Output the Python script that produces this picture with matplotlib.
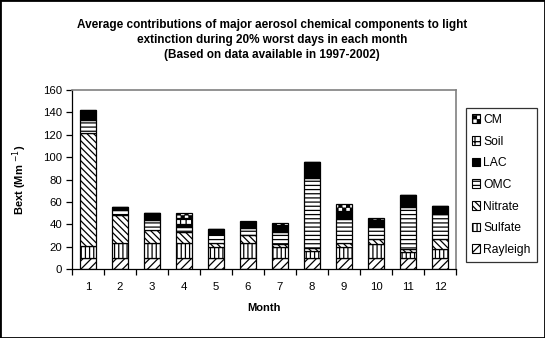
import numpy as np
import matplotlib
matplotlib.use('Agg')
import matplotlib.pyplot as plt
import matplotlib.hatch as mhatch
from matplotlib.path import Path
from matplotlib.patches import Patch, Rectangle

# ---------------- data ----------------
months = ['1', '2', '3', '4', '5', '6', '7', '8', '9', '10', '11', '12']
rayleigh = [10, 10, 10, 10, 10, 10, 10, 10, 10, 10, 10, 10]
sulfate = [11, 13, 13, 13, 10, 13, 10, 6, 10, 12, 5, 7.5]
nitrate = [101, 25, 11.5, 10, 3.5, 7.5, 2, 2.5, 3, 4.5, 2.5, 9]
omc = [11, 4.5, 9.5, 5, 8, 6.5, 11, 63, 21.5, 11, 38, 23]
lac = [8.5, 3, 6, 2.5, 4.5, 5, 6.5, 14.5, 6.5, 6.5, 10.5, 6.5]
soil = [0.5, 0, 0, 5.5, 0, 0, 0, 0, 0.5, 0, 0, 0]
cm = [0, 0, 0, 4, 0, 1, 1.5, 0, 6.5, 1.5, 0, 0]
labels = ['Rayleigh', 'Sulfate', 'Nitrate', 'OMC', 'LAC', 'Soil', 'CM']
yticks = [0, 20, 40, 60, 80, 100, 120, 140, 160]

title = ("Average contributions of major aerosol chemical components to light\n"
         "extinction during 20% worst days in each month\n"
         "(Based on data available in 1997-2002)")


# ------------- custom checkerboard hatch (replaces '*') -------------
class CheckerHatch(mhatch.HatchPatternBase):
    def __init__(self, hatch, density):
        self.n = 26 if '*' in hatch else 0
        self.cells = [(i, j) for i in range(self.n) for j in range(self.n)
                      if (i + j) % 2 == 0]
        self.num_vertices = len(self.cells) * 5

    def set_vertices_and_codes(self, vertices, codes):
        s = 1.0 / self.n
        d = s * 0.12
        k = 0
        for (i, j) in self.cells:
            x0, y0 = i * s + d, j * s + d
            x1, y1 = (i + 1) * s - d, (j + 1) * s - d
            vertices[k:k + 5] = [(x0, y0), (x1, y0), (x1, y1), (x0, y1), (x0, y0)]
            codes[k] = Path.MOVETO
            codes[k + 1:k + 4] = Path.LINETO
            codes[k + 4] = Path.CLOSEPOLY
            k += 5


mhatch._hatch_types = [t for t in mhatch._hatch_types if t is not mhatch.Stars] + [CheckerHatch]

plt.rcParams['font.family'] = ['Liberation Sans', 'DejaVu Sans']
plt.rcParams['hatch.linewidth'] = 0.9

fig = plt.figure(figsize=(5.45, 3.38), dpi=100)
ax = fig.add_axes([0.1321, 0.2041, 0.7046, 0.5296])

x = np.arange(1, len(months) + 1)
series = [rayleigh, sulfate, nitrate, omc, lac, soil, cm]
styles = [
    dict(facecolor='white', hatch='////'),
    dict(facecolor='white', hatch='||||'),
    dict(facecolor='white', hatch='\\' * 5),
    dict(facecolor='white', hatch='----'),
    dict(facecolor='black', hatch=None),
    dict(facecolor='white', hatch='+++'),
    dict(facecolor='white', hatch='*'),
]
bottom = np.zeros(len(months))
handles = []
for vals, lab, st in zip(series, labels, styles):
    v = np.array(vals, dtype=float)
    ax.bar(x, v, width=0.5, bottom=bottom, edgecolor='black', linewidth=0.9,
           **st)
    bottom += v
    handles.append(Patch(edgecolor='black', linewidth=0.8, label=lab, **st))

ax.set_xlim(0.5, len(months) + 0.5)
ax.set_ylim(yticks[0], yticks[-1])
ax.set_yticks(yticks)
ax.set_xticks(np.arange(0.5, len(months) + 1, 1.0))
ax.set_xticklabels([])
ax.set_xticks(x, minor=True)
ax.set_xticklabels(months, minor=True)
ax.tick_params(axis='x', which='minor', length=0, pad=9, labelsize=8.2)
ax.tick_params(axis='x', which='major', length=4, direction='out', width=0.9)
ax.tick_params(axis='y', length=4, direction='out', width=0.9, labelsize=8.2, pad=3)

for s in ['top', 'right']:
    ax.spines[s].set_color('#808080')
    ax.spines[s].set_linewidth(1.2)
for s in ['left', 'bottom']:
    ax.spines[s].set_color('black')
    ax.spines[s].set_linewidth(0.9)

ax.set_xlabel('Month', fontsize=8, fontweight='bold', labelpad=8)
ax.set_ylabel('Bext (Mm $^{-1}$)', fontsize=8, fontweight='bold', labelpad=10)

fig.text(0.499, 0.944, title, ha='center', va='top', fontsize=8.5,
         fontweight='bold', linespacing=1.36)

leg = ax.legend(handles[::-1], labels[::-1], loc='upper left',
                bbox_to_anchor=(1.025, 0.9), fontsize=8.7, frameon=True,
                fancybox=False, edgecolor='black', handlelength=0.7,
                handleheight=0.7, handletextpad=0.25, labelspacing=0.8,
                borderpad=0.5, borderaxespad=0)
leg.get_frame().set_linewidth(0.9)

fig.patches.append(Rectangle((0, 0), 1, 1, transform=fig.transFigure,
                             fill=False, edgecolor='black', linewidth=2))

fig.savefig('out.png', dpi=100)
